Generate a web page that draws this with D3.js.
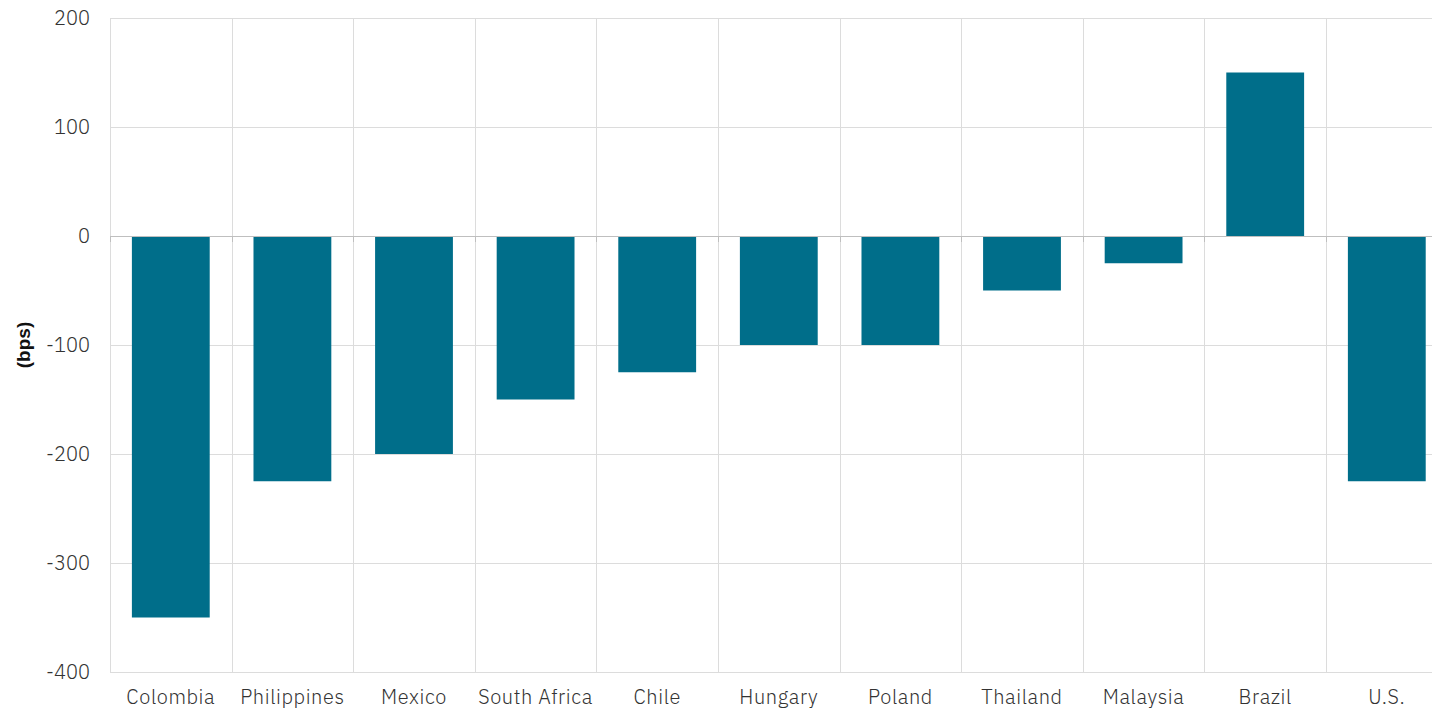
<!DOCTYPE html>
<html><head><meta charset="utf-8">
<script src="https://cdn.jsdelivr.net/npm/d3@7"></script>
<style>
html,body{margin:0;padding:0;background:#fff;overflow:hidden}
text{font-family:"IBM Plex Sans",Roboto,"Noto Sans",sans-serif}
</style></head>
<body><svg id="c" width="1432" height="710"></svg>
<script>
const categories = ["Colombia","Philippines","Mexico","South Africa","Chile","Hungary","Poland","Thailand","Malaysia","Brazil","U.S."];
const values = [-350,-225,-200,-150,-125,-100,-100,-50,-25,150,-225];
const yTicks = [200,100,0,-100,-200,-300,-400];
const yLabel = "(bps)";

(function(){
const svg = d3.select("#c");
const mLeft = 110, mRight = 1447.6, mTop = 18, mBottom = 672;
const x = d3.scaleBand().domain(categories).range([mLeft, mRight]).paddingInner(0.36).paddingOuter(0.18);
const y = d3.scaleLinear().domain([-400, 200]).range([mBottom, mTop]);
const bw = (mRight-mLeft)/categories.length;

svg.append("g").selectAll("line").data(yTicks).join("line")
  .attr("x1", mLeft).attr("x2", mRight)
  .attr("y1", d=>y(d)+0.5).attr("y2", d=>y(d)+0.5)
  .attr("stroke", "#dcdcdc").attr("stroke-width", 1);
const bounds = d3.range(categories.length+1).map(i=>mLeft+i*bw);
svg.append("g").selectAll("line").data(bounds).join("line")
  .attr("x1", d=>Math.round(d)+0.5).attr("x2", d=>Math.round(d)+0.5)
  .attr("y1", mTop).attr("y2", mBottom)
  .attr("stroke", "#dcdcdc").attr("stroke-width", 1);

svg.append("g").selectAll("rect").data(categories).join("rect")
  .attr("x", d=>x(d)).attr("width", x.bandwidth())
  .attr("y", (d,i)=>y(Math.max(0, values[i])))
  .attr("height", (d,i)=>Math.abs(y(values[i])-y(0)))
  .attr("fill", "#006e8a");

svg.append("line").attr("x1", mLeft).attr("x2", mRight).attr("y1", y(0)+0.5).attr("y2", y(0)+0.5)
  .attr("stroke", "#bfbfbf").attr("stroke-width", 1);
svg.append("g").selectAll("line").data(bounds).join("line")
  .attr("x1", d=>Math.round(d)+0.5).attr("x2", d=>Math.round(d)+0.5)
  .attr("y1", y(0)).attr("y2", y(0)+6)
  .attr("stroke", "#bfbfbf").attr("stroke-width", 1);

svg.append("g").selectAll("text").data(yTicks).join("text")
  .attr("x", 90).attr("y", d=>y(d)).attr("dy","0.35em")
  .attr("text-anchor","end").attr("font-size", 20).attr("font-weight", 300).attr("fill","#333")
  .text(d=>d);

svg.append("g").selectAll("text").data(categories).join("text")
  .attr("x", d=>x(d)+x.bandwidth()/2).attr("y", 704)
  .attr("text-anchor","middle").attr("font-size", 20).attr("font-weight", 300).attr("fill","#333")
  .attr("letter-spacing", "0.6px")
  .text(d=>d);

svg.append("text").attr("transform", `translate(23,${(mTop+mBottom)/2}) rotate(-90)`)
  .attr("text-anchor","middle").attr("dy","0.35em")
  .attr("font-size", 19).attr("font-weight","bold").attr("fill","#111")
  .style("font-family","'Liberation Sans',Arial,sans-serif")
  .text(yLabel);
})();
</script></body></html>
